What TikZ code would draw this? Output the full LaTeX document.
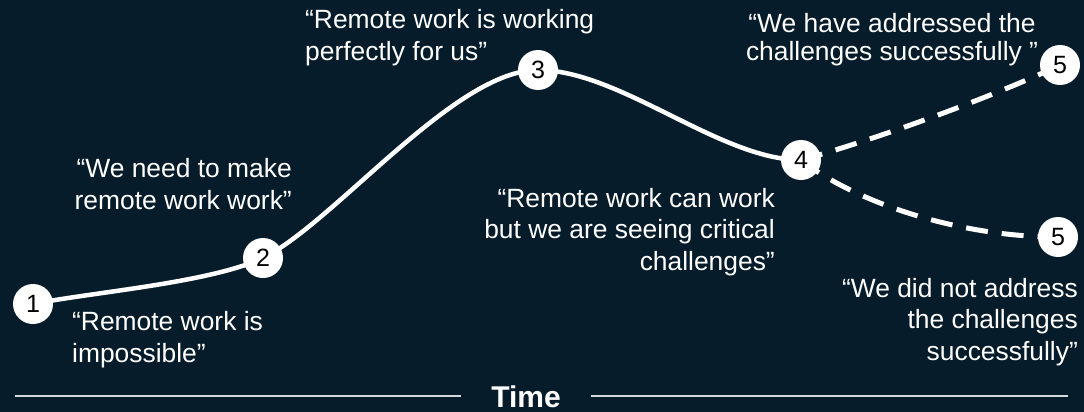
\documentclass[tikz,border=0pt]{standalone}
\usepackage{fontspec}
\setmainfont{Liberation Sans}
\definecolor{bg}{HTML}{061C2B}
\definecolor{rule}{HTML}{D6D9DC}
\begin{document}
\begin{tikzpicture}[x=1pt,y=-1pt,
  stage/.style={circle, fill=white, draw=none, minimum size=40pt, inner sep=0pt,
    text=black, font=\fontsize{25}{25}\selectfont},
  quote/.style={text=white, inner sep=0pt, font=\fontsize{26.4}{31.5}\selectfont},
  mainline/.style={white, line width=4.5pt},
  branch/.style={white, line width=5pt, dash pattern=on 22pt off 14pt},
  axisline/.style={rule, line width=2pt}]
\fill[bg] (0,0) rectangle (1084,412);
\useasboundingbox (0,0) rectangle (1084,412);

% stage positions
\coordinate (p1) at (33,304);
\coordinate (p2) at (263,258);
\coordinate (p3) at (538,70);
\coordinate (p4) at (801,160);
\coordinate (p5a) at (1060,65);
\coordinate (p5b) at (1058,237);

% curve
\draw[mainline] (p1) .. controls (93,292) and (209,283) .. (p2)
  .. controls (335,222) and (455,70) .. (p3)
  .. controls (620,70) and (720,160) .. (p4);
\draw[branch] (p4) .. controls (878,139) and (997,95) .. (p5a);
\draw[branch] (p4) .. controls (856,203) and (960,237) .. (p5b);

% stage circles
\node[stage] (n1) at (p1) {1};
\node[stage] (n2) at (p2) {2};
\node[stage] (n3) at (p3) {3};
\node[stage] (n4) at (p4) {4};
\node[stage] (n5a) at (p5a) {5};
\node[stage] (n5b) at (p5b) {5};

% quotes (base anchor = baseline of the last line)
\node[quote, anchor=base west, align=left] (q1) at (72,362)
  {“Remote work is\\impossible”};
\node[quote, anchor=base east, align=right] (q2) at (292,209)
  {“We need to make\\remote work work”};
\node[quote, anchor=base west, align=left] (q3) at (305,60)
  {“Remote work is working\\perfectly for us”};
\node[quote, anchor=base east, align=right] (q4) at (775,270)
  {“Remote work can work\\but we are seeing critical\\challenges”};
\node[quote, anchor=base, align=center, font=\fontsize{26.4}{28}\selectfont] (q5a) at (892,60)
  {“We have addressed the\\challenges successfully ”};
\node[quote, anchor=base east, align=right] (q5b) at (1078,360)
  {“We did not address\\the challenges\\successfully”};

% time axis
\node[text=white, font=\bfseries\fontsize{30}{30}\selectfont, inner xsep=30pt, inner ysep=0pt,
  anchor=base] (time) at (526,407) {Time};
\coordinate (axl) at (15,396);
\coordinate (axr) at (1068,396);
\draw[axisline] (axl) -- (axl -| time.west);
\draw[axisline] (axr -| time.east) -- (axr);
\end{tikzpicture}
\end{document}
